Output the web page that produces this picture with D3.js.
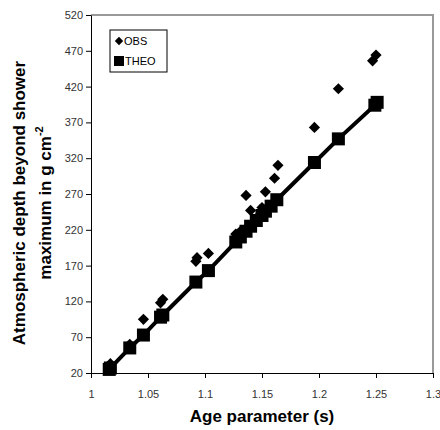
<!DOCTYPE html>
<html><head><meta charset="utf-8">
<script src="https://cdn.jsdelivr.net/npm/d3@7"></script>
<style>body{margin:0;background:#fff;font-family:"Liberation Sans",Arial,sans-serif;}</style>
</head><body><svg id="c" width="440" height="430"></svg>
<script>
const theoX = [1.016,1.017,1.034,1.046,1.061,1.063,1.092,1.103,1.127,1.131,1.136,1.140,1.145,1.150,1.153,1.158,1.163,1.196,1.217,1.249,1.251];
const theoY = [25,27,55,73,98,101,147,163,203,210,218,225,233,240,246,253,262,314,347,394,398];
const obsX = [1.016,1.017,1.034,1.046,1.061,1.063,1.092,1.093,1.103,1.127,1.131,1.136,1.140,1.145,1.150,1.153,1.161,1.164,1.196,1.217,1.247,1.250];
const obsY = [30,33,60,95,118,123,176,181,187,214,218,268,247,236,251,273,292,310,363,417,456,464];
const xTicks = [1,1.05,1.1,1.15,1.2,1.25,1.3];
const xTickLabels = ["1","1.05","1.1","1.15","1.2","1.25","1.3"];
const yTicks = [20,70,120,170,220,270,320,370,420,470,520];
const seriesNames = ["OBS","THEO"];

const svg = d3.select("#c");
const L=91,R=433,T=15,B=373;
const x = d3.scaleLinear().domain([1,1.3]).range([L,R]);
const y = d3.scaleLinear().domain([20,520]).range([B,T]);

svg.append("path").attr("d",`M${L},${T}H${R}V${B}`).attr("fill","none").attr("stroke","#999").attr("stroke-width",2);

const xAxis = svg.append("g").attr("transform",`translate(0,${B})`)
  .call(d3.axisBottom(x).tickValues(xTicks).tickFormat((d,i)=>xTickLabels[i]).tickSize(5).tickSizeOuter(0));
const yAxis = svg.append("g").attr("transform",`translate(${L},0)`)
  .call(d3.axisLeft(y).tickValues(yTicks).tickFormat(d3.format("d")).tickSize(5).tickSizeOuter(0));
[xAxis,yAxis].forEach(a=>{
  a.selectAll("path,line").attr("stroke","#000");
  a.selectAll("text").attr("font-family","Liberation Sans, Arial").attr("font-size",11).attr("fill","#333");
});
xAxis.selectAll("text").attr("dy","1.55em");

const line = d3.line().x((d,i)=>x(theoX[i])).y((d,i)=>y(theoY[i]));
svg.append("path").datum(theoY).attr("d",line).attr("fill","none").attr("stroke","#000").attr("stroke-width",4);

svg.append("g").selectAll("rect").data(theoY).join("rect")
  .attr("x",(d,i)=>x(theoX[i])-6.5).attr("y",d=>y(d)-6.5).attr("width",13).attr("height",13).attr("fill","#000");

const diamond = d3.symbol().type(d3.symbolDiamond2).size(80);
svg.append("g").selectAll("path").data(obsY).join("path")
  .attr("d",diamond).attr("transform",(d,i)=>`translate(${x(obsX[i])},${y(d)})`).attr("fill","#000");

const lg = svg.append("g");
lg.append("rect").attr("x",110).attr("y",30).attr("width",57).attr("height",42).attr("fill","#fff").attr("stroke","#000").attr("stroke-width",1);
lg.append("path").attr("d",d3.symbol().type(d3.symbolDiamond2).size(45)).attr("transform","translate(119,41)").attr("fill","#000");
lg.append("rect").attr("x",114).attr("y",56).attr("width",10).attr("height",10).attr("fill","#000");
lg.append("text").attr("x",124).attr("y",45).text(seriesNames[0]).attr("font-size",11).attr("fill","#000");
lg.append("text").attr("x",125).attr("y",65).text(seriesNames[1]).attr("font-size",11).attr("fill","#000");

svg.append("text").attr("x",262).attr("y",422).attr("text-anchor","middle")
  .attr("font-size",17).attr("font-weight","bold").text("Age parameter (s)");
const yt = svg.append("text").attr("transform","translate(0,203) rotate(-90)").attr("text-anchor","middle")
  .attr("font-size",17).attr("font-weight","bold");
yt.append("tspan").attr("x",0).attr("y",25).text("Atmospheric depth beyond shower");
yt.append("tspan").attr("x",0).attr("y",51).text("maximum in g cm");
yt.append("tspan").attr("dy",-8).attr("font-size",11).text("-2");
</script></body></html>
